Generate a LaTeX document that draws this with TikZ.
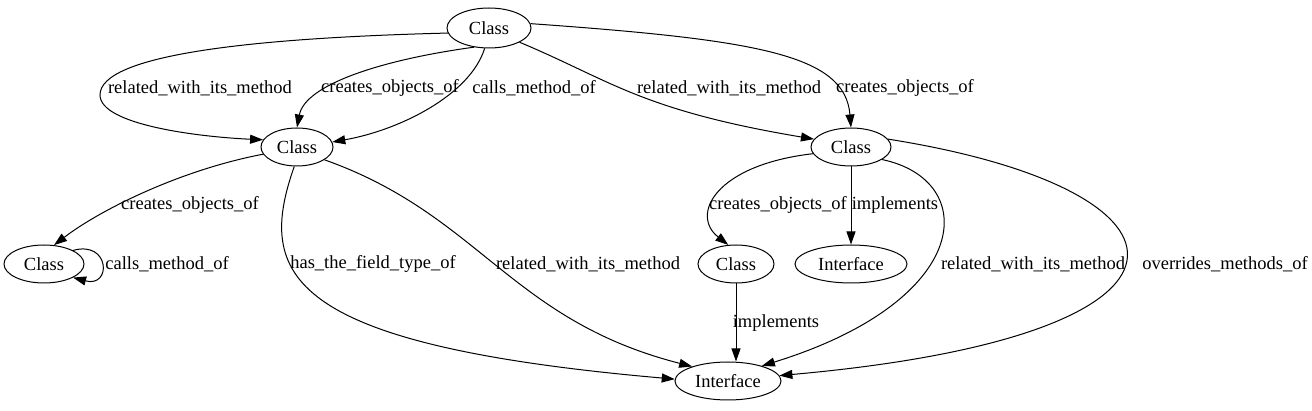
\documentclass[tikz,border=0pt]{standalone}
\usepackage{fontspec}
\setmainfont{Liberation Serif}
\usetikzlibrary{shapes.geometric,arrows.meta}

\tikzset{
  cls/.style={draw,ellipse,line width=1pt,inner sep=0pt,font=\fontsize{18.5}{20}\selectfont},
  lbl/.style={inner sep=0pt,font=\fontsize{18.5}{20}\selectfont},
  rel/.style={-{Triangle[length=13pt,width=9pt]},line width=1pt}
}

\begin{document}
\begin{tikzpicture}[x=1pt,y=-1pt]
\useasboundingbox (0,0) rectangle (1312,411);

\node[cls,minimum width=84pt,minimum height=40pt] (top) at (489,28) {Class};
\node[cls,minimum width=72pt,minimum height=38pt] (cleft) at (297,147) {Class};
\node[cls,minimum width=80pt,minimum height=38pt] (cright) at (851,147) {Class};
\node[cls,minimum width=80pt,minimum height=38pt] (cfar) at (44,264) {Class};
\node[cls,minimum width=76pt,minimum height=38pt] (cmid) at (736,264) {Class};
\node[cls,minimum width=112pt,minimum height=38pt] (iright) at (851,264) {Interface};
\node[cls,minimum width=106pt,minimum height=38pt] (ibot) at (728,381) {Interface};

% edges out of the top class
\draw[rel] (top.187) .. controls (250,38) and (100,55) .. (100,95)
  .. controls (100,125) and (200,137) .. (cleft.168);
\node[lbl] (l1) at (200,88) {related\_with\_its\_method};

\draw[rel] (top.232) .. controls (380,60) and (305,85) .. (cleft.north);
\node[lbl] (l2) at (390,88) {creates\_objects\_of};

\draw[rel] (top.258) .. controls (470,95) and (400,130) .. (cleft.8);
\node[lbl] (l3) at (534,88) {calls\_method\_of};

\draw[rel] (top.335) .. controls (610,80) and (640,110) .. (cright.168);
\node[lbl] (l4) at (729,88) {related\_with\_its\_method};

\draw[rel] (top.6) .. controls (760,40) and (845,55) .. (cright.north);
\node[lbl] (l5) at (905,88) {creates\_objects\_of};

% left part
\draw[rel] (cleft.192) .. controls (180,170) and (100,210) .. (cfar.62);
\node[lbl] (l6) at (190,205) {creates\_objects\_of};

\draw[rel] (cfar.25) .. controls (110,240) and (112,288) .. (cfar.-25);
\node[lbl] (l7) at (167,264) {calls\_method\_of};

\draw[rel] (cleft.262) .. controls (256,275) and (285,345) .. (ibot.178);
\node[lbl] (l8) at (373,264) {has\_the\_field\_type\_of};

\draw[rel] (cleft.335) .. controls (480,215) and (510,320) .. (ibot.158);
\node[lbl] (l9) at (588,264) {related\_with\_its\_method};

% right part
\draw[rel] (cright.190) .. controls (715,165) and (690,215) .. (cmid.112);
\node[lbl] (l10) at (778,205) {creates\_objects\_of};

\draw[rel] (cright.south) -- (iright.north);
\node[lbl] (l11) at (895,205) {implements};

\draw[rel] (cmid.south) -- (cmid.south |- ibot.north);
\node[lbl] (l12) at (776,323) {implements};

\draw[rel] (cright.338) .. controls (980,180) and (975,300) .. (ibot.24);
\node[lbl] (l13) at (1033,264) {related\_with\_its\_method};

\draw[rel] (cright.12) .. controls (1210,190) and (1235,335) .. (ibot.6);
\node[lbl] (l14) at (1225,264) {overrides\_methods\_of};
\end{tikzpicture}
\end{document}
